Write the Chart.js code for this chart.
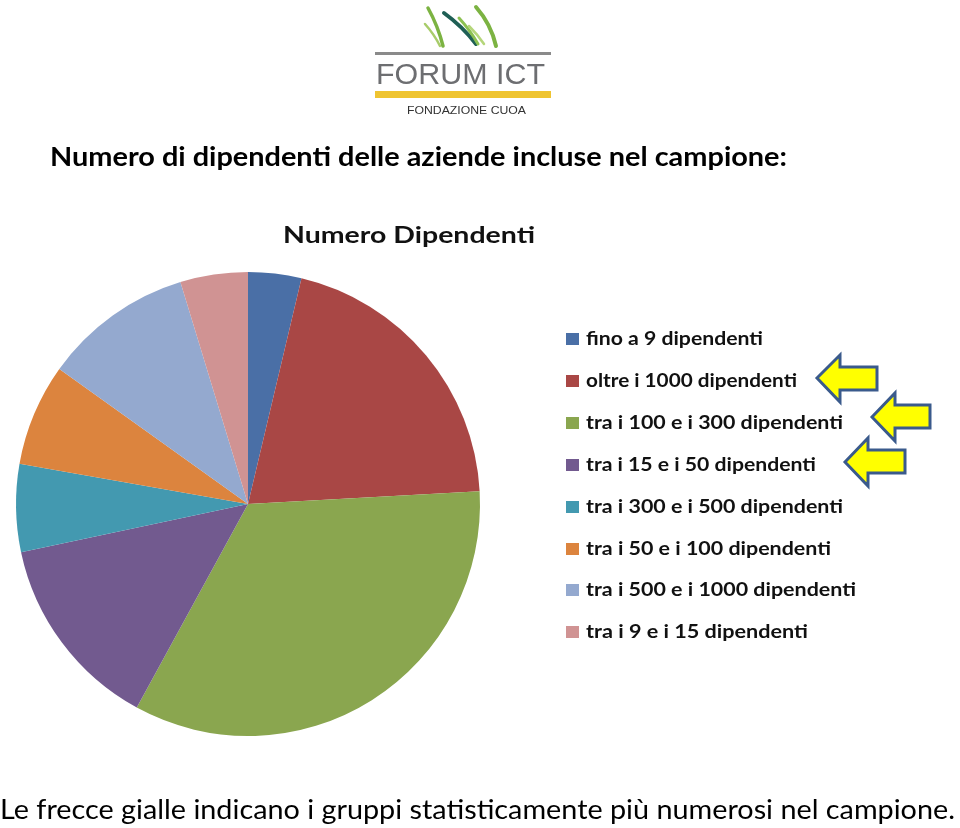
<!DOCTYPE html>
<html>
<head>
<meta charset="utf-8">
<script src="https://cdn.jsdelivr.net/npm/chart.js@4.4.1/dist/chart.umd.min.js"></script>
<style>
    body { margin: 0; background: #fff; width: 960px; height: 828px; position: relative; overflow: hidden; font-family: Lato, 'Open Sans', sans-serif; }
    #wrap { position: absolute; left: 0; top: 0; width: 960px; height: 828px; }
    .txt { position: absolute; white-space: nowrap; transform-origin: 0 0; line-height: 1.2; color: #000; }
    .legRow { position: absolute; white-space: nowrap; transform-origin: 0 0; line-height: 1.2; font-weight: 700; font-size: 19.5px; color: #111; }
    .legBox { position: absolute; width: 13px; height: 12px; }
    svg { position: absolute; left: 0; top: 0; }
</style>
</head>
<body>
<div id="wrap"><canvas id="pieDipendenti"></canvas></div>

<svg width="960" height="130" id="logo">
    <g fill="none" stroke-linecap="round">
        <path d="M425 24 Q434 34 440 46" stroke="#a8cc6a" stroke-width="2.5"/>
        <path d="M428 8 Q438 26 443 46" stroke="#7cb342" stroke-width="3.5"/>
        <path d="M444 13 Q462 26 476 44" stroke="#1f5f55" stroke-width="4"/>
        <path d="M459 18 Q470 30 478 44" stroke="#8cc152" stroke-width="3"/>
        <path d="M469 26 Q478 35 484 44" stroke="#b5d67a" stroke-width="2.5"/>
        <path d="M476 7 Q491 24 496 46" stroke="#7cb342" stroke-width="4"/>
    </g>
    <rect x="375" y="52" width="176" height="3" fill="#8a8a8a"/>
    <text x="376" y="84" font-family="'Liberation Sans', Arial, sans-serif" font-size="29" fill="#6d6e71" textLength="169" lengthAdjust="spacingAndGlyphs">FORUM ICT</text>
    <rect x="375" y="91" width="176" height="7" fill="#efc431"/>
    <text x="407" y="114" font-family="'Liberation Sans', Arial, sans-serif" font-size="10.5" fill="#333" textLength="119" lengthAdjust="spacingAndGlyphs">FONDAZIONE CUOA</text>
</svg>

<div id="head" class="txt" style="font-weight:700;font-size:27px">Numero di dipendenti delle aziende incluse nel campione:</div>
<div id="chartTitle" class="txt" style="font-weight:700;font-size:23px;color:#111">Numero Dipendenti</div>
<div id="legend"></div>
<div id="note" class="txt" style="font-size:27px">Le frecce gialle indicano i gruppi statisticamente più numerosi nel campione.</div>

<svg width="960" height="828" id="arrows">
    <g fill="#ffff00" stroke="#3a5a8c" stroke-width="3" stroke-linejoin="miter">
        <polygon points="817,378 840,355 840,367 877,367 877,390 840,390 840,402"/>
        <polygon points="872,417 895,393 895,405 930,405 930,428 895,428 895,441"/>
        <polygon points="845,462 868,438 868,450 905,450 905,473 868,473 868,486"/>
    </g>
</svg>

<script>
// categorie e percentuali
const categorie = [
    'fino a 9 dipendenti',
    'oltre i 1000 dipendenti',
    'tra i 100 e i 300 dipendenti',
    'tra i 15 e i 50 dipendenti',
    'tra i 300 e i 500 dipendenti',
    'tra i 50 e i 100 dipendenti',
    'tra i 500 e i 1000 dipendenti',
    'tra i 9 e i 15 dipendenti'
];
const percentuali = [3.7, 20.4, 33.8, 13.7, 6.1, 7.1, 10.4, 4.7];

const coloriFette = ['#4a6fa6', '#a94745', '#8aa64f', '#725a8f', '#4399b0', '#dc843e', '#94a9cf', '#d09393'];

// sposta un testo html in modo che la sua linea di base cada su "base"
function place(el, x, base, w) {
    el.style.left = x + 'px';
    el.style.top = '0px';
    el.style.transform = 'none';
    let mark = document.createElement('span');
    mark.style.cssText = 'display:inline-block;width:0;height:0;vertical-align:baseline';
    el.appendChild(mark);
    let b = mark.getBoundingClientRect().top;
    el.removeChild(mark);
    el.style.top = (base - b) + 'px';
    if (w) {
        let cw = el.getBoundingClientRect().width;
        el.style.transform = 'scaleX(' + (w / cw) + ')';
    }
}

let canvasPie = document.getElementById('pieDipendenti');
let ctxPie = canvasPie.getContext('2d');

let pieDipendenti = new Chart(ctxPie, {
    type: 'pie',
    data: {
        labels: categorie,
        datasets: [{
            data: percentuali,
            backgroundColor: coloriFette,
            hoverBackgroundColor: coloriFette,
            borderWidth: 0
        }]
    },
    options: {
        responsive: true,
        maintainAspectRatio: false,
        animation: false,
        layout: {
            padding: { left: 16, top: 272, right: 480, bottom: 92 }
        },
        plugins: {
            legend: { display: false },
            tooltip: { enabled: false }
        }
    }
});

// legenda html costruita dalle categorie
let legend = document.getElementById('legend');
categorie.forEach((c, i) => {
    let box = document.createElement('div');
    box.className = 'legBox';
    box.style.background = coloriFette[i];
    box.style.left = '566px';
    box.style.top = (333 + i * 41.9) + 'px';
    legend.appendChild(box);
    let row = document.createElement('div');
    row.className = 'legRow';
    row.textContent = c;
    legend.appendChild(row);
});

document.fonts.ready.then(() => {
    place(document.getElementById('head'), 50, 166, 737);
    place(document.getElementById('chartTitle'), 283, 243, 252);
    place(document.getElementById('note'), 0, 819, 955);
    let rows = legend.querySelectorAll('.legRow');
    let larghezze = [177, 211, 257, 230, 257, 245, 270, 222];
    rows.forEach((r, i) => place(r, 586, 345 + i * 41.9, larghezze[i]));
});
</script>
</body>
</html>
